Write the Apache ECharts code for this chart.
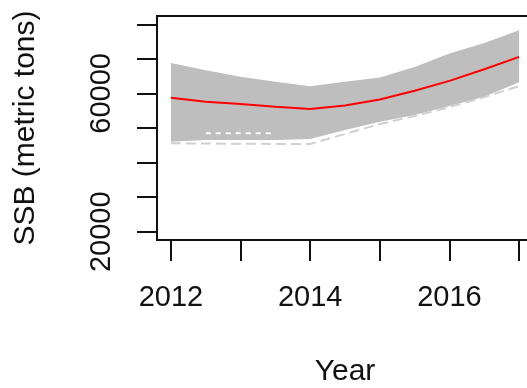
<!DOCTYPE html>
<html>
<head>
<meta charset="utf-8">
<script src="https://cdn.jsdelivr.net/npm/echarts@6/dist/echarts.min.js"></script>
<style>
html, body { margin: 0; padding: 0; background: #fff; }
#main { width: 527px; height: 388px; }
</style>
</head>
<body>
<div id="main"></div>
<script>
// values
var years = [2012, 2012.5, 2013, 2013.5, 2014, 2014.5, 2015, 2015.5, 2016, 2016.5, 2017];
var ssbMedian = [58740, 57590, 56920, 56150, 55470, 56530, 58260, 60760, 63640, 67010, 70570];
var ssbUpper = [68830, 66720, 64790, 63350, 62110, 63350, 64620, 67670, 71540, 74590, 78260];
var ssbLower = [46040, 46530, 46530, 46530, 46820, 49420, 51810, 53740, 56340, 59020, 63260];
var lowTrace = [45580, 45500, 45450, 45400, 45380, 48260, 51150, 53450, 56050, 58930, 62110];
var innerTrace = [null, 48470, 48470, 48470, null, null, null, null, null, null, null];

var xTicks = [2012, 2013, 2014, 2015, 2016, 2017];
var xLabels = [2012, 2014, 2016];
var yTicks = [20000, 30000, 40000, 50000, 60000, 70000, 80000];
var yLabels = [20000, 60000];

var font = "'Liberation Sans', Arial, sans-serif";

function pairs(vals) {
    return years.map(function (y, i) { return [y, vals[i]]; });
}
var bandData = years.map(function (y, i) { return [y, ssbLower[i], ssbUpper[i]]; });

// whole envelope drawn as one polygon through the axis scales
function renderBand(params, api) {
    if (params.dataIndex !== 0) return null;
    var top = [], bottom = [];
    for (var i = 0; i < bandData.length; i++) {
        top.push(api.coord([bandData[i][0], bandData[i][2]]));
        bottom.unshift(api.coord([bandData[i][0], bandData[i][1]]));
    }
    return {
        type: 'polygon',
        shape: { points: top.concat(bottom) },
        style: { fill: '#bebebe', stroke: null }
    };
}

var option = {
    animation: false,
    grid: {
        left: 157, top: 16, width: 376, height: 224,
        outerBoundsMode: 'none',
        containLabel: false,
        show: true, borderColor: '#111', borderWidth: 2
    },
    xAxis: {
        type: 'value',
        min: 2011.8, max: 2017.2,
        name: 'Year',
        nameLocation: 'middle',
        nameGap: 117,
        nameTextStyle: { fontFamily: font, fontSize: 30, color: '#111' },
        axisLine: { show: true, lineStyle: { color: '#111', width: 2 } },
        axisTick: { show: true, length: 21, customValues: xTicks, lineStyle: { color: '#111', width: 2 } },
        axisLabel: {
            show: true, customValues: xLabels, margin: 43,
            fontFamily: font, fontSize: 29, color: '#111',
            formatter: function (v) { return String(v); }
        },
        splitLine: { show: false }
    },
    yAxis: {
        type: 'value',
        min: 17600, max: 82400,
        name: 'SSB (metric tons)',
        nameLocation: 'middle',
        nameRotate: 90,
        nameGap: 116,
        nameTextStyle: { fontFamily: font, fontSize: 30, color: '#111' },
        axisLine: { show: true, lineStyle: { color: '#111', width: 2 } },
        axisTick: { show: true, length: 20, customValues: yTicks, lineStyle: { color: '#111', width: 2 } },
        axisLabel: {
            show: true, customValues: yLabels, rotate: 90, margin: 41,
            fontFamily: font, fontSize: 29, color: '#111',
            formatter: function (v) { return String(v); }
        },
        splitLine: { show: false }
    },
    series: [
        {
            name: 'band', type: 'custom',
            renderItem: renderBand,
            data: bandData,
            encode: { x: 0, y: [1, 2] },
            z: 1
        },
        {
            name: 'low trace', type: 'line',
            data: pairs(lowTrace), symbol: 'none',
            lineStyle: { color: '#d0d0d0', width: 2, type: [10, 5] }, z: 2
        },
        {
            name: 'inner trace', type: 'line',
            data: pairs(innerTrace), symbol: 'none',
            lineStyle: { color: '#ffffff', width: 2, type: [5, 5] }, z: 2
        },
        {
            name: 'median', type: 'line',
            data: pairs(ssbMedian), symbol: 'none',
            lineStyle: { color: '#ff0000', width: 2 }, z: 3
        }
    ]
};

var myChart = echarts.init(document.getElementById('main'));
myChart.setOption(option);
</script>
</body>
</html>
